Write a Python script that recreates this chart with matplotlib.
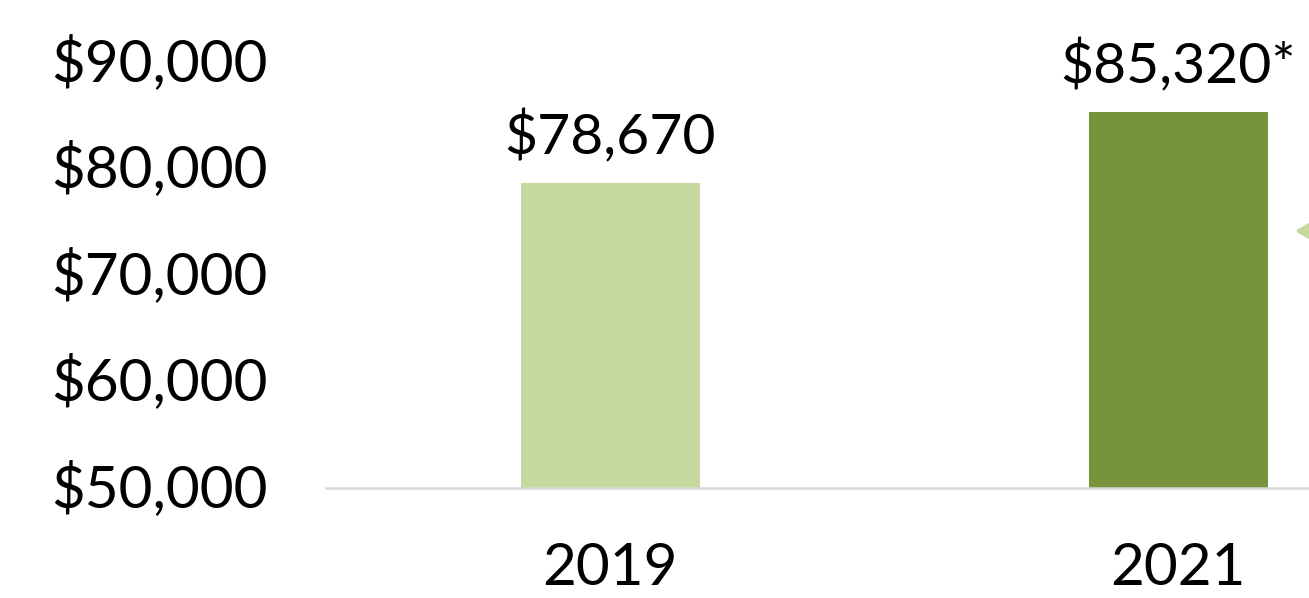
import matplotlib
matplotlib.use("Agg")
import matplotlib.pyplot as plt
import matplotlib.transforms as mtransforms

years = ["2019", "2021"]
income = [78670, 85320]
value_labels = ["$78,670", "$85,320*"]
y_ticks = [50000, 60000, 70000, 80000, 90000]
y_tick_labels = ["$50,000", "$60,000", "$70,000", "$80,000", "$90,000"]
bar_colors = ["#c5d89d", "#77933c"]

plt.rcParams["font.family"] = ["Lato", "DejaVu Sans"]

fig = plt.figure(figsize=(13.09, 5.98), dpi=100)
ax = fig.add_axes([326 / 1309, 1 - 488 / 598, 1 - 326 / 1309, (488 - 62) / 598])

x = list(range(len(years)))
bars = ax.bar(x, income, width=0.315, color=bar_colors, zorder=2)

for xi, val, lbl in zip(x, income, value_labels):
    ax.annotate(lbl, (xi, val), xytext=(0, 13), textcoords="offset points",
                ha="center", va="bottom", fontsize=41, annotation_clip=False)

ax.set_ylim(50000, 90000)
ax.set_xlim(-0.5, 1.23)
ax.set_yticks(y_ticks)
ax.set_yticklabels(y_tick_labels)
ax.set_xticks(x)
ax.set_xticklabels(years)
ax.tick_params(axis="both", length=0, labelsize=42)
ax.tick_params(axis="y", pad=42)
ax.tick_params(axis="x", pad=39)

# nudge y labels up a few pixels
shift = mtransforms.ScaledTranslation(0, 4 / 100, fig.dpi_scale_trans)
for lbl in ax.get_yticklabels():
    lbl.set_va("center_baseline")
    lbl.set_transform(lbl.get_transform() + shift)

for side in ["top", "left", "right"]:
    ax.spines[side].set_visible(False)
ax.spines["bottom"].set_color("#d9d9d9")
ax.spines["bottom"].set_linewidth(1.8)

# arrow tip coming in from the right edge, cropped
fig.patches.append(matplotlib.patches.FancyArrowPatch(
    (1340 / 1309, 1 - 231 / 598), (1292 / 1309, 1 - 231 / 598),
    transform=fig.transFigure, arrowstyle="-|>,head_length=14,head_width=8",
    mutation_scale=1, color="#c5d89d", linewidth=3))

fig.savefig("out.png", dpi=100)
